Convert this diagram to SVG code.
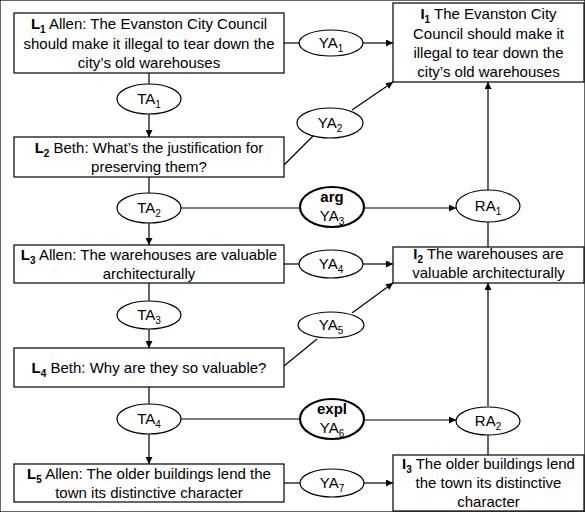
<svg xmlns="http://www.w3.org/2000/svg" width="585" height="512" viewBox="0 0 585 512">
<defs>
<marker id="ah" viewBox="0 0 10 10" refX="10" refY="5" markerWidth="7" markerHeight="7" markerUnits="userSpaceOnUse" orient="auto">
<path d="M0,0 L10,5 L0,10 z" fill="#000"/>
</marker>
</defs>
<style>
text{font-family:"Liberation Sans",Arial,sans-serif;font-size:15px;fill:#000;text-anchor:middle}
.b{font-weight:bold}
.s{font-size:10px}
rect{fill:#fff;stroke:#000;stroke-width:1.2}
ellipse{fill:#fff;stroke:#000;stroke-width:1.2}
ellipse.k{stroke-width:2.2}
#connectors line{stroke:#000;stroke-width:1.2}
line.a{marker-end:url(#ah)}
</style>
<rect width="585" height="512" fill="#fff" stroke="none"/>
<g id="connectors">
<line x1="149" y1="73" x2="149" y2="84"/>
<line class="a" x1="149" y1="114" x2="149" y2="137"/>
<line x1="149" y1="177" x2="149" y2="193"/>
<line class="a" x1="149" y1="223" x2="149" y2="245"/>
<line x1="149" y1="283" x2="149" y2="301"/>
<line class="a" x1="149" y1="329" x2="149" y2="348"/>
<line x1="149" y1="387" x2="149" y2="404"/>
<line class="a" x1="149" y1="434" x2="149" y2="464"/>
<line x1="284" y1="43" x2="299" y2="43"/>
<line class="a" x1="363" y1="43" x2="393" y2="43"/>
<line x1="284" y1="165" x2="313" y2="136"/>
<line class="a" x1="352" y1="110" x2="393" y2="82"/>
<line x1="181" y1="208" x2="300" y2="208"/>
<line class="a" x1="364" y1="208" x2="456" y2="208"/>
<line class="a" x1="488" y1="190" x2="488" y2="82"/>
<line x1="488" y1="247" x2="488" y2="222"/>
<line x1="284" y1="264" x2="299" y2="264"/>
<line class="a" x1="363" y1="264" x2="393" y2="264"/>
<line x1="284" y1="366" x2="317" y2="339"/>
<line class="a" x1="352" y1="313" x2="393" y2="283"/>
<line x1="181" y1="419" x2="300" y2="419"/>
<line class="a" x1="364" y1="420" x2="456" y2="420"/>
<line class="a" x1="488" y1="406" x2="488" y2="283"/>
<line x1="488" y1="455" x2="488" y2="434"/>
<line x1="284" y1="483" x2="300" y2="483"/>
<line class="a" x1="364" y1="483" x2="393" y2="483"/>
</g>
<g id="L1">
<rect x="14" y="13" width="270" height="60"/>
<text x="149" y="29"><tspan class="b">L<tspan class="s" dy="4">1</tspan></tspan><tspan dy="-4"> Allen: The Evanston City Council</tspan></text>
<text x="149" y="48.5">should make it illegal to tear down the</text>
<text x="149" y="68">city’s old warehouses</text>
</g>
<g id="L2">
<rect x="14" y="137" width="270" height="40"/>
<text x="149" y="153"><tspan class="b">L<tspan class="s" dy="4">2</tspan></tspan><tspan dy="-4"> Beth: What’s the justification for</tspan></text>
<text x="149" y="172">preserving them?</text>
</g>
<g id="L3">
<rect x="14" y="245" width="270" height="38"/>
<text x="149" y="260"><tspan class="b">L<tspan class="s" dy="4">3</tspan></tspan><tspan dy="-4"> Allen: The warehouses are valuable</tspan></text>
<text x="149" y="279">architecturally</text>
</g>
<g id="L4">
<rect x="14" y="348" width="270" height="39"/>
<text x="149" y="373"><tspan class="b">L<tspan class="s" dy="4">4</tspan></tspan><tspan dy="-4"> Beth: Why are they so valuable?</tspan></text>
</g>
<g id="L5">
<rect x="14" y="464" width="270" height="38"/>
<text x="149" y="479"><tspan class="b">L<tspan class="s" dy="4">5</tspan></tspan><tspan dy="-4"> Allen: The older buildings lend the</tspan></text>
<text x="149" y="498">town its distinctive character</text>
</g>
<g id="I1">
<rect x="393" y="3" width="191" height="79"/>
<text x="488.5" y="19"><tspan class="b">I<tspan class="s" dy="4">1</tspan></tspan><tspan dy="-4"> The Evanston City</tspan></text>
<text x="488.5" y="38.5">Council should make it</text>
<text x="488.5" y="58">illegal to tear down the</text>
<text x="488.5" y="77">city’s old warehouses</text>
</g>
<g id="I2">
<rect x="393" y="247" width="191" height="36"/>
<text x="488.5" y="259"><tspan class="b">I<tspan class="s" dy="4">2</tspan></tspan><tspan dy="-4"> The warehouses are</tspan></text>
<text x="488.5" y="278">valuable architecturally</text>
</g>
<g id="I3">
<rect x="393" y="455" width="191" height="56"/>
<text x="488.5" y="469"><tspan class="b">I<tspan class="s" dy="4">3</tspan></tspan><tspan dy="-4"> The older buildings lend</tspan></text>
<text x="488.5" y="488">the town its distinctive</text>
<text x="488.5" y="507">character</text>
</g>
<g id="TA1"><ellipse cx="149" cy="99" rx="32" ry="15"/><text x="149" y="104">TA<tspan class="s" dy="4">1</tspan></text></g>
<g id="TA2"><ellipse cx="149" cy="208" rx="32" ry="15"/><text x="149" y="213">TA<tspan class="s" dy="4">2</tspan></text></g>
<g id="TA3"><ellipse cx="149" cy="315" rx="32" ry="14"/><text x="149" y="320">TA<tspan class="s" dy="4">3</tspan></text></g>
<g id="TA4"><ellipse cx="149" cy="419" rx="32" ry="15"/><text x="149" y="424">TA<tspan class="s" dy="4">4</tspan></text></g>
<g id="YA1"><ellipse cx="331" cy="43" rx="32" ry="13"/><text x="331" y="48">YA<tspan class="s" dy="4">1</tspan></text></g>
<g id="YA2"><ellipse cx="330" cy="123" rx="33" ry="15"/><text x="330" y="128">YA<tspan class="s" dy="4">2</tspan></text></g>
<g id="YA3"><ellipse class="k" cx="332" cy="207" rx="32" ry="20"/><text class="b" x="332" y="202">arg</text><text x="332" y="221">YA<tspan class="s" dy="4">3</tspan></text></g>
<g id="YA4"><ellipse cx="331" cy="264" rx="32" ry="14"/><text x="331" y="269">YA<tspan class="s" dy="4">4</tspan></text></g>
<g id="YA5"><ellipse cx="331" cy="325" rx="33" ry="13"/><text x="331" y="330">YA<tspan class="s" dy="4">5</tspan></text></g>
<g id="YA6"><ellipse class="k" cx="332" cy="419" rx="32" ry="20"/><text class="b" x="332" y="414">expl</text><text x="332" y="433">YA<tspan class="s" dy="4">6</tspan></text></g>
<g id="YA7"><ellipse cx="332" cy="483" rx="32" ry="14"/><text x="332" y="488">YA<tspan class="s" dy="4">7</tspan></text></g>
<g id="RA1"><ellipse cx="488" cy="206" rx="32" ry="16"/><text x="488" y="211">RA<tspan class="s" dy="4">1</tspan></text></g>
<g id="RA2"><ellipse cx="488" cy="421" rx="32" ry="14"/><text x="488" y="426">RA<tspan class="s" dy="4">2</tspan></text></g>
</svg>
